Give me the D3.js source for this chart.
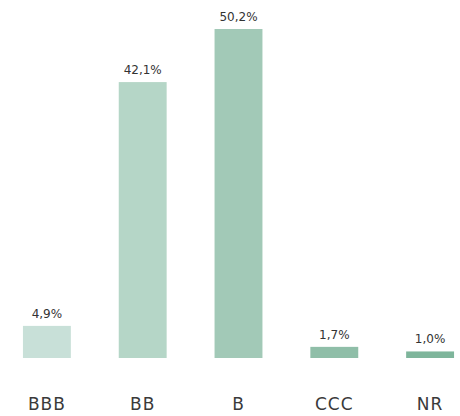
<!DOCTYPE html>
<html>
<head>
<meta charset="utf-8">
<script src="https://cdn.jsdelivr.net/npm/d3@7.9.0/dist/d3.min.js"></script>
<style>
  body { margin: 0; background: #fff; }
  svg { display: block; font-family: "DejaVu Sans", sans-serif; }
</style>
</head>
<body>
<div id="chart"></div>
<script>
// ratings and share of portfolio (%)
const categories = ['BBB', 'BB', 'B', 'CCC', 'NR'];
const values = [4.9, 42.1, 50.2, 1.7, 1.0];
const valueLabels = ['4,9%', '42,1%', '50,2%', '1,7%', '1,0%'];
const colors = ['#c8e0d8', '#b5d6c7', '#a2c9b7', '#8fbea8', '#7eb59b'];

const width = 460;
const height = 416;

const svg = d3.select('#chart')
  .append('svg')
  .attr('width', width)
  .attr('height', height);

// band scale for the bars
const x = d3.scaleBand()
  .domain(categories)
  .range([-1, 478])
  .paddingInner(0.5)
  .paddingOuter(0.25);

const y = d3.scaleLinear()
  .domain([0, 50.2])
  .range([358, 29]);

const data = categories.map((c, i) => ({ cat: c, val: values[i], label: valueLabels[i], color: colors[i] }));

svg.append('g')
  .selectAll('rect')
  .data(data)
  .join('rect')
  .attr('x', d => x(d.cat))
  .attr('y', d => y(d.val))
  .attr('width', x.bandwidth())
  .attr('height', d => y(0) - y(d.val))
  .attr('fill', d => d.color);

// value labels above bars
svg.append('g')
  .selectAll('text')
  .data(data)
  .join('text')
  .attr('x', d => x(d.cat) + x.bandwidth() / 2)
  .attr('y', d => y(d.val) - 8)
  .attr('text-anchor', 'middle')
  .attr('font-size', 12)
  .attr('fill', '#333')
  .text(d => d.label);

// category axis, no line or ticks
const axis = svg.append('g')
  .attr('transform', 'translate(0,398)')
  .call(d3.axisBottom(x).tickSize(0).tickPadding(0));
axis.select('.domain').remove();
axis.selectAll('text')
  .attr('font-family', '"DejaVu Sans", sans-serif')
  .attr('font-size', 17)
  .attr('letter-spacing', 1)
  .attr('fill', '#3a3a3a');
</script>
</body>
</html>
